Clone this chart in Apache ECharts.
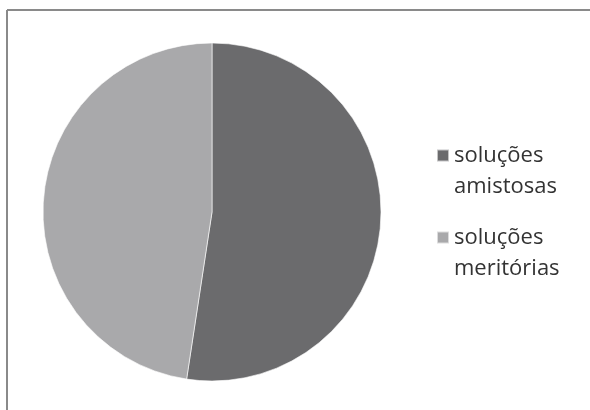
<!DOCTYPE html>
<html>
<head>
<meta charset="utf-8">
<script src="https://cdn.jsdelivr.net/npm/echarts@6/dist/echarts.min.js"></script>
<style>
  html, body { margin: 0; padding: 0; background: #fff; }
  #chart { width: 590px; height: 410px; }
</style>
</head>
<body>
<div id="chart"></div>
<script>
// Categories and their shares (%)
const categories = ['soluções amistosas', 'soluções meritórias'];
const shares = [52.4, 47.6];
const sliceColors = ['#6b6b6d', '#a9a9ab'];

const chart = echarts.init(document.getElementById('chart'), null, { renderer: 'canvas' });

chart.setOption({
  animation: false,
  backgroundColor: '#ffffff',
  color: sliceColors,
  graphic: [
    { type: 'line', shape: { x1: 7, y1: 10, x2: 590, y2: 10 }, style: { stroke: '#8a8a8a', lineWidth: 2 } },
    { type: 'line', shape: { x1: 7, y1: 10, x2: 7, y2: 410 }, style: { stroke: '#8a8a8a', lineWidth: 2 } }
  ],
  legend: {
    orient: 'vertical',
    left: 431,
    top: 104,
    icon: 'rect',
    itemWidth: 12,
    itemHeight: 12,
    itemGap: -11,
    selectedMode: false,
    data: categories,
    // leading empty line keeps the swatch level with the first text line
    formatter: name => '\n' + name.replace(' ', '\n'),
    textStyle: {
      fontFamily: 'Open Sans',
      fontSize: 22,
      color: '#333333',
      lineHeight: 31
    }
  },
  series: [{
    type: 'pie',
    center: [212, 212],
    radius: 169,
    startAngle: 90,
    clockwise: true,
    label: { show: false },
    labelLine: { show: false },
    emphasis: { disabled: true },
    itemStyle: { borderColor: 'rgba(255,255,255,0.6)', borderWidth: 1 },
    data: categories.map((c, i) => ({ name: c, value: shares[i] }))
  }]
});
</script>
</body>
</html>
